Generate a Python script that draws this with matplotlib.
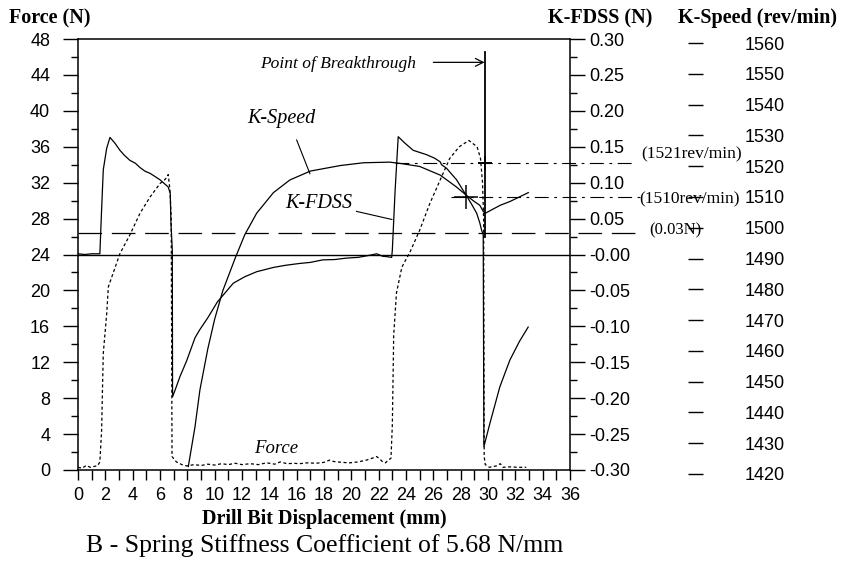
import matplotlib
matplotlib.use("Agg")
import matplotlib.pyplot as plt
from matplotlib.ticker import MultipleLocator, FixedLocator, FixedFormatter

plt.rcParams["lines.scale_dashes"] = False

SERIF = "Liberation Serif"
SANS = "Liberation Sans"

# ---------------- data ----------------
# Drilling force (N), left axis
force_x = [0.0, 0.3, 0.6, 0.9, 1.2, 1.45, 1.6, 1.73, 1.78, 1.85, 2.1, 2.22, 3.07, 3.8,
           4.54, 5.27, 6.0, 6.4, 6.6, 6.73, 6.82, 6.85, 6.88, 7.2, 7.6, 7.95, 8.5, 9.0,
           9.5, 10.0, 10.5, 11.0, 11.5, 12.0, 12.6, 13.2, 13.8, 14.4, 14.8, 15.3, 15.8,
           16.2, 16.8, 17.4, 18.0, 18.4, 18.7, 19.3, 19.9, 20.5, 21.1, 21.5, 21.85,
           22.1, 22.3, 22.5, 22.7, 22.9, 23.0, 23.05, 23.1, 23.3, 23.7, 24.3, 25.0,
           25.75, 26.5, 27.2, 27.9, 28.6, 29.2, 29.45, 29.6, 29.68, 29.7, 29.72, 29.8,
           30.1, 30.6, 30.9, 31.1, 31.6, 32.2, 32.8]
force_y = [0.3, 0.2, 0.5, 0.3, 0.4, 0.5, 0.9, 4.5, 8.2, 13.0, 17.4, 20.4, 24.1, 26.2,
           28.6, 30.4, 31.9, 32.4, 32.9, 31.2, 28.0, 15.0, 1.5, 0.9, 0.6, 0.45, 0.6, 0.5,
           0.65, 0.55, 0.7, 0.6, 0.75, 0.6, 0.7, 0.6, 0.8, 0.65, 0.9, 0.7, 0.75,
           0.7, 0.8, 0.75, 0.85, 1.1, 0.95, 0.85, 0.8, 0.9, 1.1, 1.3, 1.5,
           1.2, 0.9, 0.8, 1.1, 1.3, 5.0, 10.0, 15.0, 19.7, 22.6, 24.3, 26.7,
           29.7, 32.3, 34.7, 36.0, 36.7, 36.0, 34.7, 32.0, 28.0, 15.0, 1.5, 0.6,
           0.3, 0.45, 0.7, 0.3, 0.35, 0.3, 0.3]

# K-FDSS (N), first right axis
kfdss_x = [0.0, 0.5, 1.0, 1.6, 1.7, 1.85, 2.1, 2.34, 2.7, 3.07, 3.4, 3.8, 4.2, 4.54,
           4.9, 5.27, 5.6, 6.0, 6.3, 6.6, 6.75, 6.8, 6.9, 6.92, 7.1, 7.46, 7.95, 8.56,
           8.9, 9.5, 10.2, 11.36, 12.2, 13.07, 14.3, 15.2, 16.2, 17.0, 17.9, 18.8,
           19.65, 20.5, 21.36, 21.85, 22.3, 22.6, 22.95, 23.0, 23.2, 23.43, 23.92,
           24.53, 25.5, 26.1, 26.5, 26.6, 26.97, 27.7, 28.4, 28.8, 29.17, 29.4, 29.53,
           29.65, 29.7, 30.14, 30.87, 31.6, 32.3, 32.94]
kfdss_y = [0.001, 0.0, 0.001, 0.001, 0.05, 0.118, 0.148, 0.163, 0.155, 0.145, 0.138,
           0.131, 0.127, 0.121, 0.116, 0.113, 0.109, 0.104, 0.099, 0.094, 0.085,
           0.044, 0.006, -0.198, -0.189, -0.170, -0.148, -0.116, -0.105, -0.088,
           -0.066, -0.040, -0.031, -0.024, -0.018, -0.015, -0.0125, -0.011, -0.0075,
           -0.007, -0.005, -0.004, -0.001, 0.001, -0.0025, -0.003, -0.004, 0.006,
           0.088, 0.164, 0.155, 0.145, 0.139, 0.134, 0.129, 0.125, 0.120, 0.104,
           0.0825, 0.07, 0.0575, 0.044, 0.034, 0.0275, -0.2675, -0.235, -0.184,
           -0.147, -0.121, -0.101]

# K-Speed (rev/min), second right axis
kspeed_x = [8.07, 8.56, 8.92, 9.5, 10.0, 10.6, 11.5, 12.2, 13.07, 14.3, 15.5, 17.0,
            19.2, 20.9, 22.8, 23.55, 25.0, 26.5, 27.7, 28.4, 29.0, 29.4, 29.65, 29.8,
            30.9, 31.6, 32.95]
kspeed_y = [1422.4, 1435.3, 1447.3, 1460.7, 1470.3, 1479.6, 1490.1, 1497.7, 1504.7,
            1511.4, 1515.5, 1518.4, 1520.2, 1521.1, 1521.3, 1520.9, 1519.9, 1517.1,
            1513.2, 1510.6, 1508.5, 1507.3, 1505.3, 1504.7, 1507.3, 1508.5, 1511.4]

# Reference levels
breakthrough_x = 29.75
kfdss_ref = 0.03
speed_refs = [1521, 1510]

force_ticks = list(range(0, 49, 4))
x_ticks = list(range(0, 37, 2))
kfdss_ticks = [0.30, 0.25, 0.20, 0.15, 0.10, 0.05, 0.0, -0.05, -0.10, -0.15, -0.20, -0.25, -0.30]
kfdss_labels = ["0.30", "0.25", "0.20", "0.15", "0.10", "0.05", "-0.00", "-0.05",
                "-0.10", "-0.15", "-0.20", "-0.25", "-0.30"]
speed_ticks = list(range(1420, 1561, 10))

# ---------------- figure ----------------
W, H = 842, 561
fig = plt.figure(figsize=(W / 100, H / 100), dpi=100)
fig.patch.set_facecolor("white")

x0, x1, ytop, ybot = 78, 570, 39, 470
ax = fig.add_axes([x0 / W, 1 - ybot / H, (x1 - x0) / W, (ybot - ytop) / H])
ax.set_xlim(0, 36)
ax.set_ylim(0, 48)
ax.patch.set_alpha(0)

ax2 = ax.twinx()
ax2.set_ylim(-0.3, 0.3)

# speed scale sits a few pixels lower than the force scale
sp_top, sp_bot = 43, 474
ax3 = fig.add_axes([x0 / W, 1 - sp_bot / H, (x1 - x0) / W, (sp_bot - sp_top) / H],
                   sharex=ax)
ax3.set_ylim(1420, 1560)
ax3.patch.set_alpha(0)
ax3.xaxis.set_visible(False)
ax3.yaxis.tick_right()

LW = 0.9
TICK_FS = 13

# main axis styling
for s in ["left", "bottom", "top"]:
    ax.spines[s].set_linewidth(1.1)
ax.spines["right"].set_visible(False)
ax.yaxis.set_major_locator(FixedLocator(force_ticks))
ax.yaxis.set_minor_locator(MultipleLocator(2))
ax.xaxis.set_major_locator(FixedLocator(x_ticks))
ax.xaxis.set_minor_locator(MultipleLocator(1))
ax.tick_params(axis="y", which="major", direction="out", length=11, width=1.0, pad=9,
               left=True, right=False)
ax.tick_params(axis="y", which="minor", direction="out", length=5, width=1.0,
               left=True, right=False)
ax.tick_params(axis="x", which="both", direction="out", length=7, width=1.0, pad=5,
               top=False)
for t in ax.get_yticklabels() + ax.get_xticklabels():
    t.set_fontfamily(SANS)
    t.set_fontsize(TICK_FS)

# K-FDSS axis
for s in ["left", "bottom", "top"]:
    ax2.spines[s].set_visible(False)
ax2.spines["right"].set_linewidth(1.1)
ax2.yaxis.set_major_locator(FixedLocator(kfdss_ticks))
ax2.yaxis.set_major_formatter(FixedFormatter(kfdss_labels))
ax2.yaxis.set_minor_locator(MultipleLocator(0.025))
ax2.tick_params(axis="y", which="major", direction="out", length=11, width=1.0, pad=3)
ax2.tick_params(axis="y", which="minor", direction="out", length=5, width=1.0)
for t in ax2.get_yticklabels():
    t.set_fontfamily(SANS)
    t.set_fontsize(TICK_FS)

# K-Speed axis: floating ticks without a spine
for s in ["left", "bottom", "top"]:
    ax3.spines[s].set_visible(False)
ax3.spines["right"].set_position(("axes", (688 - x0) / (x1 - x0)))
ax3.spines["right"].set_visible(False)
ax3.yaxis.set_major_locator(FixedLocator(speed_ticks))
ax3.yaxis.set_minor_locator(FixedLocator([]))
ax3.tick_params(axis="y", which="major", direction="out", length=11, width=1.0, pad=30,
                left=False, right=True, labelleft=False, labelright=True)
for t in ax3.get_yticklabels():
    t.set_fontfamily(SANS)
    t.set_fontsize(TICK_FS)

# ---------------- curves ----------------
ax.plot(force_x, force_y, color="black", lw=LW, dashes=(2.2, 1.8))
ax2.plot(kfdss_x, kfdss_y, color="black", lw=LW)
ax3.plot(kspeed_x, kspeed_y, color="black", lw=LW)

# zero line of K-FDSS
ax2.plot([0, 36], [0, 0], color="black", lw=1.0)
# K-FDSS level at breakthrough
ax2.plot([0, 41.0], [kfdss_ref, kfdss_ref], color="black", lw=0.9,
         dashes=(17, 7), clip_on=False)
# K-Speed levels
ax3.plot([23.2, 40.7], [speed_refs[0], speed_refs[0]], color="black", lw=0.8,
         dashes=(10, 4, 2, 4), clip_on=False)
ax3.plot([27.3, 41.1], [speed_refs[1], speed_refs[1]], color="black", lw=0.8,
         dashes=(10, 4, 2, 4), clip_on=False)
ax3.plot([28.4], [speed_refs[1]], marker="+", ms=17, mew=1.1, color="black")
ax3.plot([breakthrough_x], [speed_refs[0]], marker="+", ms=10, mew=1.4, color="black")

# breakthrough marker
ax.plot([breakthrough_x, breakthrough_x], [26.0, 46.5], color="black", lw=1.3)
ax.annotate("", xy=(breakthrough_x, 45.4), xytext=(26.0, 45.4),
            arrowprops=dict(arrowstyle="->", lw=0.9, color="black",
                            mutation_scale=14, shrinkA=0, shrinkB=0))
ax.text(19.0, 45.2, "Point of Breakthrough", family=SERIF, style="italic",
        fontsize=12.5, ha="center", va="center")

# curve labels with leader lines
ax.text(14.9, 39.2, "K-Speed", family=SERIF, style="italic", fontsize=14.5,
        ha="center", va="center")
ax.plot([16.0, 16.97], [36.75, 33.0], color="black", lw=0.8)
ax.text(17.6, 29.7, "K-FDSS", family=SERIF, style="italic", fontsize=14.5,
        ha="center", va="center")
ax.plot([20.38, 22.97], [28.8, 27.9], color="black", lw=0.8)
ax.text(14.5, 2.45, "Force", family=SERIF, style="italic", fontsize=13.5,
        ha="center", va="center")

# level annotations right of the plot
ax.text(41.2, 35.2, "(1521rev/min)", family=SERIF, fontsize=12.5, ha="left", va="center")
ax.text(41.1, 30.1, "(1510rev/min)", family=SERIF, fontsize=12.5, ha="left", va="center")
ax.text(41.8, 26.7, "(0.03N)", family=SERIF, fontsize=12, ha="left", va="center")

# ---------------- titles ----------------
def ftext(px, py, s, **kw):
    fig.text(px / W, 1 - py / H, s, **kw)

ftext(50, 23, "Force (N)", family=SERIF, weight="bold", fontsize=14.5, ha="center",
      va="baseline")
ftext(600, 23, "K-FDSS (N)", family=SERIF, weight="bold", fontsize=14.5, ha="center",
      va="baseline")
ftext(758, 23, "K-Speed (rev/min)", family=SERIF, weight="bold", fontsize=14.5,
      ha="center", va="baseline")
ftext(324, 524, "Drill Bit Displacement (mm)", family=SERIF, weight="bold",
      fontsize=14.5, ha="center", va="baseline")
ftext(325, 552, "B - Spring Stiffness Coefficient of 5.68 N/mm", family=SERIF,
      fontsize=18.5, ha="center", va="baseline")

fig.savefig("out.png", dpi=100)
